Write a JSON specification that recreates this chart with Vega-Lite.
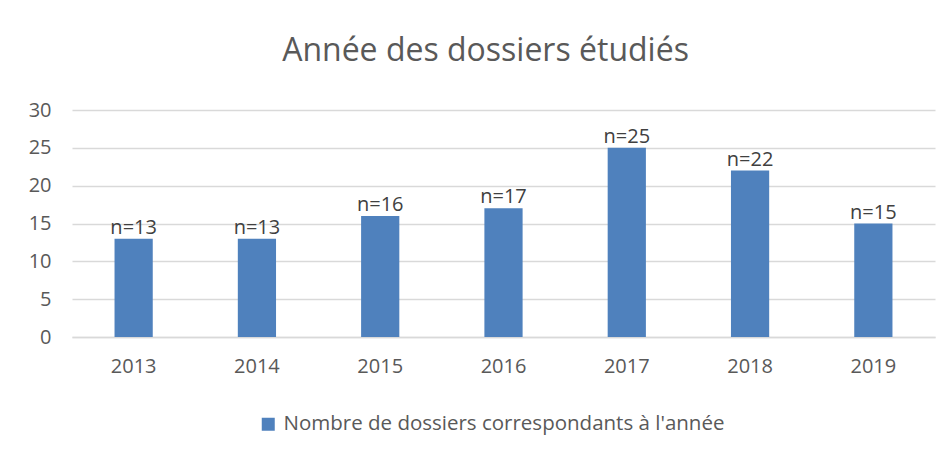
{
  "$schema": "https://vega.github.io/schema/vega-lite/v6.json",
  "autosize": "none",
  "width": 863,
  "height": 227,
  "padding": {"left": 72, "top": 110, "right": 13, "bottom": 113},
  "background": "white",
  "title": {
    "text": "Année des dossiers étudiés",
    "fontSize": 32,
    "font": "Open Sans",
    "fontWeight": "normal",
    "color": "#595959",
    "anchor": "middle",
    "dx": -18,
    "offset": 32
  },
  "data": {
    "values": [
      {"annee": "2013", "n": 13, "label": "n=13", "serie": "Nombre de dossiers correspondants à l'année"},
      {"annee": "2014", "n": 13, "label": "n=13", "serie": "Nombre de dossiers correspondants à l'année"},
      {"annee": "2015", "n": 16, "label": "n=16", "serie": "Nombre de dossiers correspondants à l'année"},
      {"annee": "2016", "n": 17, "label": "n=17", "serie": "Nombre de dossiers correspondants à l'année"},
      {"annee": "2017", "n": 25, "label": "n=25", "serie": "Nombre de dossiers correspondants à l'année"},
      {"annee": "2018", "n": 22, "label": "n=22", "serie": "Nombre de dossiers correspondants à l'année"},
      {"annee": "2019", "n": 15, "label": "n=15", "serie": "Nombre de dossiers correspondants à l'année"}
    ]
  },
  "encoding": {
    "x": {
      "field": "annee",
      "type": "nominal",
      "scale": {"paddingInner": 0, "paddingOuter": 0},
      "axis": {
        "title": null,
        "labelAngle": 0,
        "labelFont": "Open Sans",
        "labelFontSize": 20,
        "labelColor": "#595959",
        "labelPadding": 19,
        "ticks": false,
        "domain": true,
        "domainColor": "#d9d9d9",
        "domainWidth": 1.5
      }
    },
    "y": {
      "field": "n",
      "type": "quantitative",
      "scale": {"domain": [0, 30], "nice": false},
      "axis": {
        "title": null,
        "values": [0, 5, 10, 15, 20, 25, 30],
        "labelOverlap": false,
        "labelFont": "Open Sans",
        "labelFontSize": 20,
        "labelColor": "#595959",
        "labelPadding": 21,
        "ticks": false,
        "domain": false,
        "grid": true,
        "gridColor": "#d9d9d9",
        "gridWidth": 1.5
      }
    }
  },
  "layer": [
    {
      "mark": {"type": "bar", "width": {"band": 0.31}},
      "encoding": {
        "color": {
          "field": "serie",
          "type": "nominal",
          "scale": {"range": ["#4F81BD"]},
          "legend": {
            "title": null,
            "orient": "none",
            "legendX": 186,
            "legendY": 304,
            "symbolType": "square",
            "symbolSize": 169,
            "symbolStrokeWidth": 0,
            "labelFont": "Open Sans",
            "labelFontSize": 20.5,
            "labelColor": "#595959",
            "labelOffset": 5,
            "labelLimit": 700
          }
        }
      }
    },
    {
      "mark": {"type": "text", "baseline": "bottom", "dy": -1, "font": "Open Sans", "fontSize": 20, "color": "#404040"},
      "encoding": {
        "text": {"field": "label", "type": "nominal"}
      }
    }
  ],
  "config": {"view": {"stroke": null}}
}
